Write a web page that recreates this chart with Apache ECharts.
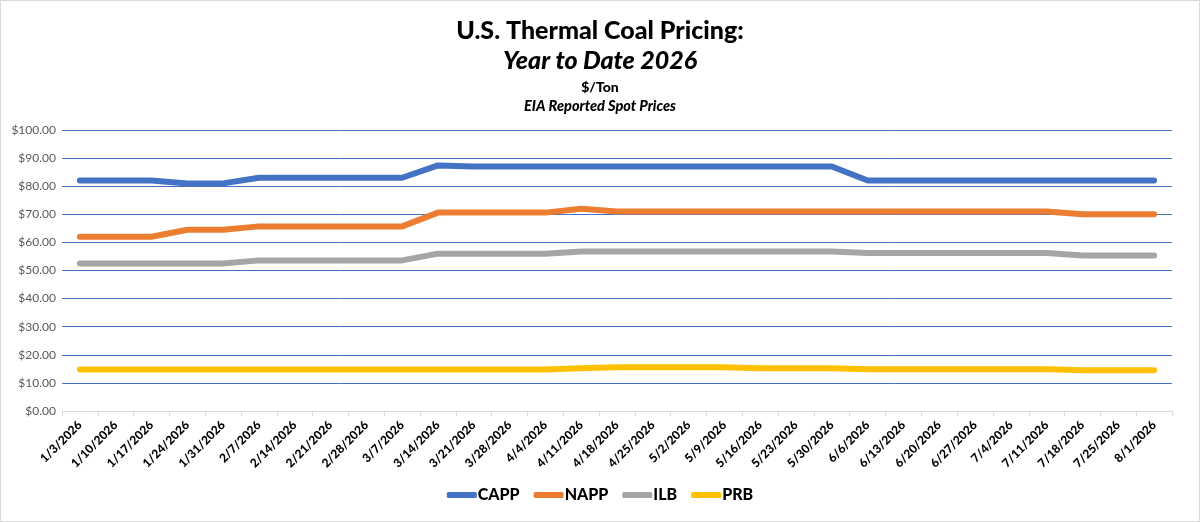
<!DOCTYPE html>
<html>
<head>
<meta charset="utf-8">
<script src="https://cdn.jsdelivr.net/npm/echarts@6/dist/echarts.min.js"></script>
<style>
  html, body { margin: 0; padding: 0; background: #fff; }
  #chart { width: 1198px; height: 520px; border: 1px solid #d9d9d9; }
</style>
</head>
<body>
<div id="chart"></div>
<script>
// weekly EIA spot prices, $/ton
const weeks = ['1/3/2026', '1/10/2026', '1/17/2026', '1/24/2026', '1/31/2026', '2/7/2026', '2/14/2026',
  '2/21/2026', '2/28/2026', '3/7/2026', '3/14/2026', '3/21/2026', '3/28/2026', '4/4/2026', '4/11/2026',
  '4/18/2026', '4/25/2026', '5/2/2026', '5/9/2026', '5/16/2026', '5/23/2026', '5/30/2026', '6/6/2026',
  '6/13/2026', '6/20/2026', '6/27/2026', '7/4/2026', '7/11/2026', '7/18/2026', '7/25/2026', '8/1/2026'];

const capp = [82, 82, 82, 81, 81, 83, 83, 83, 83, 83, 87.4, 87, 87, 87, 87, 87, 87, 87, 87, 87, 87, 87,
  82, 82, 82, 82, 82, 82, 82, 82, 82];
const napp = [62, 62, 62, 64.5, 64.5, 65.7, 65.7, 65.7, 65.7, 65.7, 70.6, 70.6, 70.6, 70.6, 72, 71, 71,
  71, 71, 71, 71, 71, 71, 71, 71, 71, 71, 71, 70, 70, 70];
const ilb = [52.5, 52.5, 52.5, 52.5, 52.5, 53.6, 53.6, 53.6, 53.6, 53.6, 56, 56, 56, 56, 56.8, 56.8, 56.8,
  56.8, 56.8, 56.8, 56.8, 56.8, 56.2, 56.2, 56.2, 56.2, 56.2, 56.2, 55.3, 55.3, 55.3];
const prb = [14.8, 14.8, 14.8, 14.8, 14.8, 14.8, 14.8, 14.8, 14.8, 14.8, 14.8, 14.8, 14.8, 14.8, 15.2,
  15.6, 15.6, 15.6, 15.6, 15.2, 15.2, 15.2, 14.9, 14.9, 14.9, 14.9, 14.9, 14.9, 14.5, 14.5, 14.5];

const names = ['CAPP', 'NAPP', 'ILB', 'PRB'];
const colors = ['#4472C4', '#ED7D31', '#A5A5A5', '#FFC000'];
const values = [capp, napp, ilb, prb];

const font = 'Lato, "Open Sans", sans-serif';
const chart = echarts.init(document.getElementById('chart'));

let series = [];
for (let i = 0; i < names.length; i++) {
  series.push({
    name: names[i],
    type: 'line',
    data: values[i],
    symbol: 'none',
    smooth: false,
    lineStyle: { color: colors[i], width: 6, cap: 'round', join: 'round' },
    itemStyle: { color: colors[i] }
  });
}

chart.setOption({
  animation: false,
  color: colors,
  textStyle: { fontFamily: font },
  title: [{
    text: 'U.S. Thermal Coal Pricing:',
    left: 'center', top: 12,
    textStyle: { fontFamily: font, fontSize: 25, fontWeight: 900, color: '#000' }
  }, {
    text: 'Year to Date 2026',
    left: 'center', top: 42,
    textStyle: { fontFamily: font, fontSize: 25, fontWeight: 900, fontStyle: 'italic', color: '#000' }
  }, {
    text: '$/Ton',
    left: 'center', top: 74,
    textStyle: { fontFamily: font, fontSize: 14, fontWeight: 900, color: '#000' }
  }, {
    text: 'EIA Reported Spot Prices',
    left: 'center', top: 93,
    textStyle: { fontFamily: font, fontSize: 14.5, fontWeight: 900, fontStyle: 'italic', color: '#000' }
  }],
  legend: {
    bottom: 13,
    left: 'center',
    itemWidth: 30,
    itemHeight: 6,
    itemGap: 14,
    icon: 'roundRect',
    textStyle: { fontFamily: font, fontSize: 16, fontWeight: 900, color: '#000', padding: [0, 0, 0, -4] },
    data: names
  },
  grid: { left: 61, right: 27, top: 129, bottom: 110 },
  xAxis: {
    type: 'category',
    boundaryGap: true,
    data: weeks,
    axisLine: { lineStyle: { color: '#d9d9d9', width: 1 } },
    axisTick: { show: true, length: 5, lineStyle: { color: '#d9d9d9' } },
    axisLabel: {
      interval: 0, rotate: 45, margin: 12,
      fontFamily: font, fontSize: 12, fontWeight: 900, color: '#000'
    }
  },
  yAxis: {
    type: 'value',
    min: 0, max: 100, interval: 10,
    axisLine: { show: false },
    axisTick: { show: false },
    splitLine: { lineStyle: { color: '#4472C4', width: 1 } },
    axisLabel: {
      margin: 6, fontFamily: font, fontSize: 12, color: '#595959',
      formatter: function (v) { return '$' + v.toFixed(2); }
    }
  },
  series: series
});
</script>
</body>
</html>
